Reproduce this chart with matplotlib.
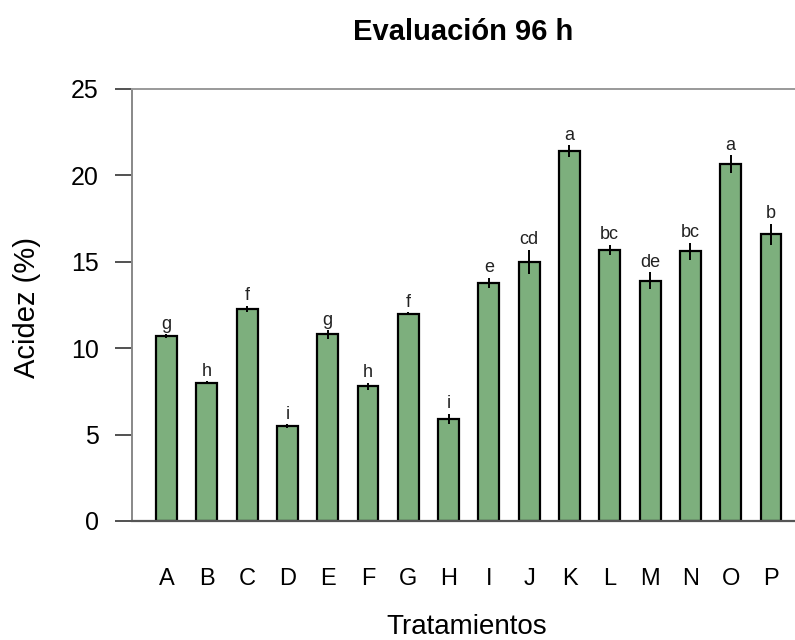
import matplotlib
matplotlib.use("Agg")
import matplotlib.pyplot as plt
import numpy as np

plt.rcParams['font.family'] = ['Liberation Sans', 'DejaVu Sans']

categories = ["A", "B", "C", "D", "E", "F", "G", "H", "I", "J", "K", "L", "M", "N", "O", "P"]
values = [10.7, 8.0, 12.27, 5.5, 10.8, 7.8, 12.0, 5.9, 13.77, 15.0, 21.4, 15.7, 13.9, 15.6, 20.66, 16.6]
errors = [0.1, 0.1, 0.2, 0.1, 0.25, 0.2, 0.1, 0.3, 0.3, 0.7, 0.35, 0.3, 0.5, 0.5, 0.5, 0.6]
letters = ["g", "h", "f", "i", "g", "h", "f", "i", "e", "cd", "a", "bc", "de", "bc", "a", "b"]
yticks = [0, 5, 10, 15, 20, 25]

fig = plt.figure(figsize=(7.95, 6.4), dpi=100)
ax = fig.add_axes([132/795, 119/640, (815-132)/795, 432/640])

x = np.arange(len(categories))
ax.bar(x, values, width=0.52, color='#7DAF7D', edgecolor='black', linewidth=1.6, zorder=2)
ax.errorbar(x, values, yerr=errors, fmt='none', ecolor='black', elinewidth=1.4, capsize=0, zorder=3)
for xi, v, e, lab in zip(x, values, errors, letters):
    ax.text(xi, v + e + 0.08, lab, ha='center', va='bottom', fontsize=13, color='#222222')

ax.set_xlim(-0.856, -0.856 + (815-132)/40.3)
ax.set_ylim(0, 25)
ax.set_yticks(yticks)
ax.set_yticklabels([str(t) for t in yticks], fontsize=18)
ax.set_xticks(x)
ax.set_xticklabels(categories, fontsize=17)
ax.tick_params(axis='x', length=0, pad=34)
ax.tick_params(axis='y', length=12, width=1.2, color='#333333', pad=12, direction='out')

ax.spines['left'].set_color('#888888')
ax.spines['left'].set_linewidth(1.4)
ax.spines['top'].set_color('#999999')
ax.spines['top'].set_linewidth(1.4)
ax.spines['bottom'].set_color('#555555')
ax.spines['bottom'].set_linewidth(1.6)
ax.spines['right'].set_visible(False)

fig.text(463/795, 1 - 40/640, "Evaluación 96 h", ha='center', va='baseline', fontsize=21, fontweight='bold')
fig.text(467/795, 1 - 634/640, "Tratamientos", ha='center', va='baseline', fontsize=20)
fig.text(27/795, 1 - 307/640, "Acidez (%)", ha='center', va='center', fontsize=21, rotation=90)

fig.savefig("out.png", dpi=100)
